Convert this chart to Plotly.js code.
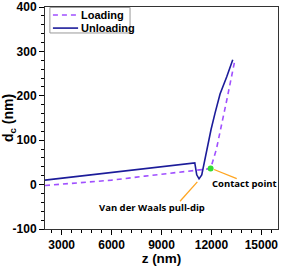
<!DOCTYPE html>
<html>
<head>
<meta charset="utf-8">
<script src="https://cdn.plot.ly/plotly-3.0.1.min.js"></script>
<style>html,body{margin:0;padding:0;background:#fff;}#chart{width:283px;height:266px;}</style>
</head>
<body>
<div id="chart"></div>
<script>
// Loading curve (dashed)
const loadingZ = [2000, 4000, 6000, 8000, 10000, 11000, 11950, 12300, 12520, 12920, 13380];
const loadingD = [-2, 4, 10, 19, 27, 31, 36, 80, 122, 190, 275];
// Unloading curve (solid)
const unloadingZ = [2000, 5000, 8000, 11000, 11117, 11255, 11418, 11514, 11977, 12217, 12518, 12920, 13281];
const unloadingD = [10, 23, 36, 49, 22, 13, 22, 41, 124, 161, 204, 243, 281];
// Contact point
const contactZ = [11950];
const contactD = [36];
const xTicks = [3000, 6000, 9000, 12000, 15000];
const yTicks = [-100, 0, 100, 200, 300, 400];
const seriesNames = ['Loading', 'Unloading'];
const seriesColors = ['#a050ff', '#1c1c9a'];

const FAM = 'Liberation Sans, Arial, sans-serif';
const boldFont = {family: FAM, size: 12, color: '#000', weight: 'bold'};

const traces = [
  {x: loadingZ, y: loadingD, type: 'scatter', mode: 'lines', name: seriesNames[0], showlegend: false,
   line: {color: seriesColors[0], width: 1.6, dash: '5px,4px'}},
  {x: unloadingZ, y: unloadingD, type: 'scatter', mode: 'lines', name: seriesNames[1], showlegend: false,
   line: {color: seriesColors[1], width: 1.6}},
  {x: contactZ, y: contactD, type: 'scatter', mode: 'markers', showlegend: false,
   marker: {color: '#33dd33', size: 6}}
];

// compact legend drawn in paper coordinates
const legY = [0.964, 0.905];
const legendShapes = [
  {type: 'rect', xref: 'paper', yref: 'paper', x0: 0.021, x1: 0.365, y0: 0.883, y1: 0.998,
   line: {color: '#999', width: 1}, fillcolor: 'rgba(255,255,255,0)'},
  {type: 'line', xref: 'paper', yref: 'paper', x0: 0.034, x1: 0.142, y0: legY[0], y1: legY[0],
   line: {color: seriesColors[0], width: 1.6, dash: '5px,4px'}},
  {type: 'line', xref: 'paper', yref: 'paper', x0: 0.034, x1: 0.142, y0: legY[1], y1: legY[1],
   line: {color: seriesColors[1], width: 1.6}}
];
const legendAnns = seriesNames.map((n, i) => ({
  xref: 'paper', yref: 'paper', x: 0.148, y: legY[i], xanchor: 'left', yanchor: 'middle',
  text: n, showarrow: false, font: {family: FAM, size: 11, weight: 'bold', color: '#000'}
}));

const layout = {
  width: 283, height: 266,
  margin: {l: 45, r: 5, t: 7, b: 37},
  paper_bgcolor: '#fff', plot_bgcolor: '#fff',
  showlegend: false,
  xaxis: {range: [2000, 16000], tickvals: xTicks, ticktext: xTicks.map(String),
    ticks: 'outside', ticklen: 5, tickwidth: 1, tickcolor: '#000',
    minor: {dtick: 600, tick0: 0, ticks: 'outside', ticklen: 3, tickcolor: '#000'},
    showline: true, linecolor: '#333', linewidth: 1, mirror: true,
    showgrid: false, zeroline: false, tickfont: boldFont,
    title: {text: 'z (nm)', font: {family: FAM, size: 13.5, weight: 'bold', color: '#000'}, standoff: 2}},
  yaxis: {range: [-100, 400], tickvals: yTicks, ticktext: yTicks.map(String),
    ticks: 'outside', ticklen: 5, tickwidth: 1, tickcolor: '#000',
    minor: {dtick: 20, tick0: 0, ticks: 'outside', ticklen: 3, tickcolor: '#000'},
    showline: true, linecolor: '#333', linewidth: 1, mirror: true,
    showgrid: false, zeroline: false, tickfont: boldFont,
    title: {text: 'd<sub>c</sub> (nm)', font: {family: FAM, size: 14, weight: 'bold', color: '#000'}, standoff: 2}},
  shapes: [
    {type: 'line', xref: 'x', yref: 'y', x0: 10114, y0: -37.5, x1: 11153, y1: 6, line: {color: '#ffa520', width: 1.3}},
    {type: 'line', xref: 'x', yref: 'y', x0: 12157, y0: 34, x1: 13521, y1: 13.5, line: {color: '#ffa520', width: 1.3}}
  ].concat(legendShapes),
  annotations: [
    {x: 5100, y: -52, xref: 'x', yref: 'y', xanchor: 'left', text: 'Van der Waals pull-dip', showarrow: false,
     font: {family: 'Open Sans, sans-serif', size: 9.5, weight: 'bold', color: '#000'}},
    {x: 13960, y: 2, xref: 'x', yref: 'y', text: 'Contact point', showarrow: false,
     font: {family: 'Open Sans, sans-serif', size: 9.5, weight: 'bold', color: '#000'}}
  ].concat(legendAnns)
};

Plotly.newPlot('chart', traces, layout, {displayModeBar: false, staticPlot: true});
</script>
</body>
</html>
